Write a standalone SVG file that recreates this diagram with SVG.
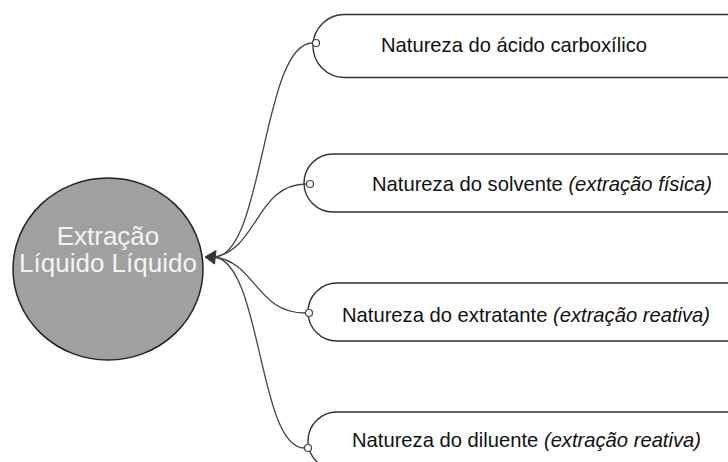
<svg xmlns="http://www.w3.org/2000/svg" width="728" height="462" viewBox="0 0 728 462">
<defs>
<style>
.box{fill:#fff;stroke:#333;stroke-width:1.4}
.lbl{font-family:"Liberation Sans",Arial,sans-serif;font-size:20.2px;fill:#111}
.it{font-style:italic}
.conn{fill:none;stroke:#444;stroke-width:1.3}
.port{fill:#fff;stroke:#444;stroke-width:1.2}
.ctr{font-family:"Liberation Sans",Arial,sans-serif;font-size:26px;fill:#f4f4f4;text-anchor:middle}
</style>
</defs>
<rect width="728" height="462" fill="#fff"/>
<g id="center">
<ellipse cx="108" cy="269" rx="95" ry="91" fill="#a0a0a0" stroke="#222" stroke-width="1.5"/>
<text class="ctr" x="108" y="245">Extração</text>
<text class="ctr" x="108" y="272">Líquido Líquido</text>
</g>
<g id="n1">
<rect class="box" x="313" y="14.5" width="520" height="63" rx="31.5" ry="31.5"/>
<text class="lbl" x="381" y="52">Natureza do ácido carboxílico</text>
</g>
<g id="n2">
<rect class="box" x="304" y="154" width="520" height="58" rx="29" ry="29"/>
<text class="lbl" x="372" y="191">Natureza do solvente <tspan class="it">(extração física)</tspan></text>
</g>
<g id="n3">
<rect class="box" x="308" y="283" width="520" height="58" rx="29" ry="29"/>
<text class="lbl" x="342" y="322">Natureza do extratante <tspan class="it">(extração reativa)</tspan></text>
</g>
<g id="n4">
<rect class="box" x="308" y="412" width="520" height="58" rx="29" ry="29"/>
<text class="lbl" x="352" y="447">Natureza do diluente <tspan class="it">(extração reativa)</tspan></text>
</g>
<g id="connectors">
<path class="conn" d="M214,257 C264,257 262,43 312.5,43"/>
<path class="conn" d="M214,257 C258,250 256,184 306.5,184"/>
<path class="conn" d="M214,257 C256,262 256,313 305.5,313"/>
<path class="conn" d="M214,257 C262,262 258,448 304.5,448"/>
<polygon points="205,257 216,250.5 214.5,264" fill="#333" stroke="#333" stroke-width="1"/>
<circle class="port" cx="316" cy="43" r="3.5"/>
<circle class="port" cx="310" cy="184" r="3.5"/>
<circle class="port" cx="309" cy="313" r="3.5"/>
<circle class="port" cx="308" cy="448" r="3.5"/>
</g>
</svg>
